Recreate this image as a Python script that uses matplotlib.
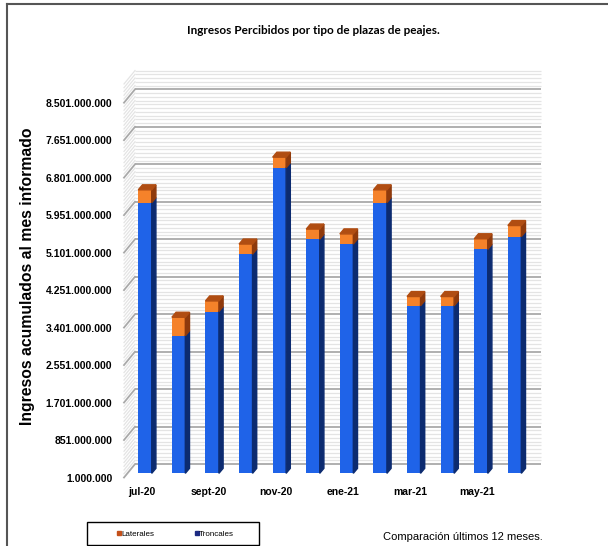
import matplotlib
matplotlib.use("Agg")
import matplotlib.pyplot as plt
import matplotlib.transforms as mtransforms
from matplotlib.patches import Polygon, Rectangle
from matplotlib.lines import Line2D
import numpy as np

# data (pesos)
meses = ["jul-20", "ago-20", "sept-20", "oct-20", "nov-20", "dic-20",
         "ene-21", "feb-21", "mar-21", "abr-21", "may-21", "jun-21"]
troncales = [6.14e9, 3.12e9, 3.67e9, 4.97e9, 6.93e9, 5.31e9,
             5.20e9, 6.14e9, 3.80e9, 3.80e9, 5.08e9, 5.37e9]
laterales = [0.29e9, 0.42e9, 0.24e9, 0.23e9, 0.24e9, 0.23e9,
             0.23e9, 0.29e9, 0.21e9, 0.21e9, 0.24e9, 0.25e9]
y_min = 1000000
y_major = 850000000
y_top_label = 8501000000

SANS = ["Liberation Sans", "DejaVu Sans"]
TITLE_FONT = ["Lato", "Liberation Sans", "DejaVu Sans"]

W, H, DPI = 608, 546, 100
fig = plt.figure(figsize=(W / DPI, H / DPI), dpi=DPI)

# front plane of the pseudo-3D plot, in pixels
left_px, right_px = 124, 530
bottom_px, top_px = 477.5, 102.7
step_px = 33.6
first_px = 141.5

ax = fig.add_axes([left_px / W, (H - bottom_px) / H,
                   (right_px - left_px) / W, (bottom_px - top_px) / H])
xlim = ((left_px - first_px) / step_px, (right_px - first_px) / step_px)
ax.set_xlim(*xlim)
ax.set_ylim(y_min, y_top_label)
ax.patch.set_visible(False)
for s in ax.spines.values():
    s.set_visible(False)

sx = (right_px - left_px) / (xlim[1] - xlim[0])
sy = (bottom_px - top_px) / (y_top_label - y_min)


def dpx(dx, dy):
    return dx / sx, dy / sy


# back wall + left side wall
wall_dx, wall_dy = dpx(11, 13.4)
minor = y_major / 10
levels = np.arange(y_min, y_top_label + 5 * minor + 1, minor)
for k, v in enumerate(levels):
    is_major = k % 10 == 0
    col = "#a9a9a9" if is_major else "#e4e4e4"
    lw = 1.3 if is_major else 0.9
    ax.plot([xlim[0] + wall_dx, xlim[1] + wall_dx], [v + wall_dy, v + wall_dy],
            color=col, lw=lw, clip_on=False, zorder=0 if not is_major else 0.5,
            solid_capstyle="butt")
    ax.plot([xlim[0], xlim[0] + wall_dx], [v, v + wall_dy],
            color=col, lw=lw, clip_on=False, zorder=0 if not is_major else 0.5)

# bars, set a little back into the depth
shift = mtransforms.ScaledTranslation(3.5 / DPI, 4.2 / DPI, fig.dpi_scale_trans)
bar_tr = ax.transData + shift
x = np.arange(len(meses))
bw = 0.4
depth_dx, depth_dy = dpx(4.2, 5)

blue, blue_side = "#1f63e8", "#0c2b70"
orange, orange_side, orange_top = "#f5822a", "#8f3a0c", "#b04d12"

ax.bar(x, troncales, width=bw, color=blue, transform=bar_tr, zorder=3,
       clip_on=False, label="Troncales")
tot = [t + l for t, l in zip(troncales, laterales)]
ax.bar(x, laterales, bottom=troncales, width=bw, color=orange, transform=bar_tr,
       zorder=3, clip_on=False, label="Laterales")

for xi, t, s in zip(x, troncales, tot):
    xr = xi + bw / 2
    xl = xi - bw / 2
    ax.add_patch(Polygon([(xr, 0), (xr, t), (xr + depth_dx, t + depth_dy),
                          (xr + depth_dx, depth_dy)], closed=True,
                         color=blue_side, transform=bar_tr, zorder=3, clip_on=False))
    ax.add_patch(Polygon([(xr, t), (xr, s), (xr + depth_dx, s + depth_dy),
                          (xr + depth_dx, t + depth_dy)], closed=True,
                         color=orange_side, transform=bar_tr, zorder=3, clip_on=False))
    ax.add_patch(Polygon([(xl, s), (xr, s), (xr + depth_dx, s + depth_dy),
                          (xl + depth_dx, s + depth_dy)], closed=True,
                         color=orange_top, transform=bar_tr, zorder=3, clip_on=False))

# axes text
yt = np.arange(y_min, y_top_label + 1, y_major)
ax.set_yticks(yt)
ax.set_yticklabels([f"{int(v):,}".replace(",", ".") for v in yt])
ax.set_xticks(x[::2])
ax.set_xticklabels(meses[::2])
ax.tick_params(axis="y", length=0, pad=8.5)
ax.tick_params(axis="x", length=0, pad=7)
for lab in ax.get_yticklabels() + ax.get_xticklabels():
    lab.set_fontfamily(SANS)
    lab.set_fontweight("bold")
    lab.set_fontsize(7.5)

ax.set_ylabel("Ingresos acumulados al mes informado", family=SANS,
              fontweight="bold", fontsize=11.3)
ax.yaxis.set_label_coords((35 - left_px) / (right_px - left_px),
                          (bottom_px - 276) / (bottom_px - top_px))

fig.text(313 / W, 1 - 30 / H, "Ingresos Percibidos por tipo de plazas de peajes.",
         family=TITLE_FONT, fontweight="bold", fontsize=8.5, ha="center", va="center")
fig.text(383 / W, 1 - 537 / H, "Comparación últimos 12 meses.",
         family=SANS, fontsize=8, ha="left", va="center")

# legend
handles = [Line2D([], [], marker="s", ls="", color="#c4501a", markersize=2.5),
           Line2D([], [], marker="s", ls="", color="#1c2a82", markersize=2.5)]
fig.patches.append(Rectangle((87 / W, 1 - 545 / H), 172 / W, 23 / H,
                             transform=fig.transFigure, fill=False,
                             edgecolor="black", lw=1.0))
leg = fig.legend(handles, ["Laterales", "Troncales"], ncol=2, frameon=False,
                 loc="center", bbox_to_anchor=(176 / W, 1 - 534 / H),
                 handlelength=0.4, handletextpad=0.1, columnspacing=5.0,
                 prop={"family": SANS, "size": 5.8})

# outer frame
fig.add_artist(Line2D([7 / W, 1], [1 - 4 / H, 1 - 4 / H], color="#555555", lw=1.5,
                      transform=fig.transFigure))
fig.add_artist(Line2D([7 / W, 7 / W], [0, 1 - 4 / H], color="#555555", lw=1.5,
                      transform=fig.transFigure))

fig.savefig("out.png", dpi=DPI)
plt.close(fig)
